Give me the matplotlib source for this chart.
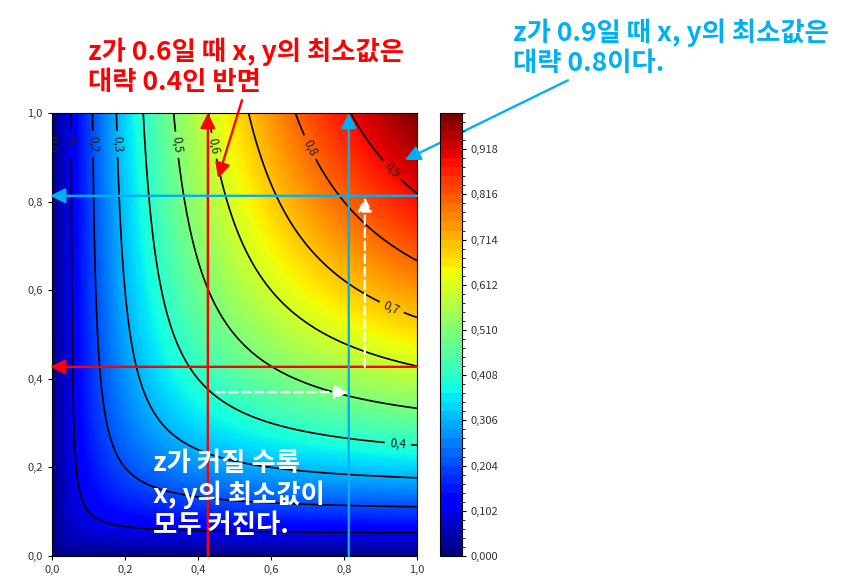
import numpy as np
import matplotlib
matplotlib.use("Agg")
import matplotlib.pyplot as plt
from matplotlib.ticker import FuncFormatter
from matplotlib.colors import BoundaryNorm
from matplotlib.cm import ScalarMappable

plt.rcParams['font.family'] = ['Noto Sans CJK KR', 'DejaVu Sans']

# ---- data ----
grid_x = np.linspace(0.0, 1.0, 400)
grid_y = np.linspace(0.0, 1.0, 400)
fill_levels = np.linspace(0.0, 1.0, 50)
smooth_levels = np.linspace(0.0, 1.0, 256)
line_levels = [0.0, 0.1, 0.2, 0.3, 0.4, 0.5, 0.6, 0.7, 0.8, 0.9]
axis_ticks = [0.0, 0.2, 0.4, 0.6, 0.8, 1.0]
cbar_ticks = fill_levels[::5]
label_spots = [(0.005, 0.93), (0.055, 0.93), (0.115, 0.93), (0.18, 0.93), (0.95, 0.28),
               (0.36, 0.93), (0.47, 0.93), (0.93, 0.56), (0.70, 0.92), (0.93, 0.87)]

red_min = 0.427      # z = 0.6 -> min x, y
blue_min = 0.813     # z = 0.9 -> min x, y

red_text = "z가 0.6일 때 x, y의 최소값은\n대략 0.4인 반면"
blue_text = "z가 0.9일 때 x, y의 최소값은\n대략 0.8이다."
white_text = "z가 커질 수록\nx, y의 최소값이\n모두 커진다."

RED = "#FF0000"
BLUE = "#00B0F0"

X, Y = np.meshgrid(grid_x, grid_y)
with np.errstate(divide='ignore', invalid='ignore'):
    Z = np.where(X + Y > 0, 2 * X * Y / (X + Y), 0.0)

fig = plt.figure(figsize=(8.49, 5.86), dpi=100)
ax = fig.add_axes([0.0612, 0.0512, 0.430, 0.756])
cax = fig.add_axes([0.518, 0.0512, 0.026, 0.756])

cf = ax.contourf(X, Y, Z, levels=smooth_levels, cmap='jet')
cs = ax.contour(X, Y, Z, levels=line_levels, colors='black', linewidths=1.2)
ax.clabel(cs, fmt=lambda v: f"{v:.1f}".replace('.', ','), fontsize=8.5,
          manual=label_spots, inline=True, colors='#222222')

comma = lambda fmt: FuncFormatter(lambda v, p: (fmt % v).replace('.', ','))
ax.set_xlim(0, 1)
ax.set_ylim(0, 1)
ax.set_xticks(axis_ticks)
ax.set_yticks(axis_ticks)
ax.xaxis.set_major_formatter(comma("%.1f"))
ax.yaxis.set_major_formatter(comma("%.1f"))
ax.tick_params(labelsize=8, labelcolor='#333333', length=3, width=0.8)

sm = ScalarMappable(norm=BoundaryNorm(fill_levels, ncolors=256), cmap='jet')
cb = fig.colorbar(sm, cax=cax, ticks=cbar_ticks)
cb.ax.yaxis.set_major_formatter(comma("%.3f"))
cb.ax.tick_params(labelsize=8, labelcolor='#333333', length=3, width=0.8)

HEAD = '-|>,head_length=0.6,head_width=0.3'

def arrow(x0, y0, x1, y1, color, ls='-', ms=15, lw=1.7):
    ax.annotate('', xy=(x1, y1), xytext=(x0, y0), xycoords='data', textcoords='data',
                arrowprops=dict(arrowstyle=HEAD, color=color, lw=lw, linestyle=ls,
                                mutation_scale=ms, shrinkA=0, shrinkB=0),
                annotation_clip=False)

# red guides
arrow(red_min, 0.0, red_min, 1.0, RED)
arrow(1.0, red_min, -0.005, red_min, RED)
# blue guides
arrow(blue_min, 0.0, blue_min, 1.0, BLUE)
arrow(1.0, blue_min, -0.005, blue_min, BLUE)
# white dashed arrows
arrow(0.45, 0.37, 0.812, 0.37, 'white', ls=(0, (3.5, 2)), ms=14)
arrow(0.857, red_min, 0.857, 0.81, 'white', ls=(0, (3.5, 2)), ms=14)

# callout arrows
ax.annotate('', xy=(0.455, 0.853), xytext=(0.285, 0.829), xycoords='data',
            textcoords='figure fraction',
            arrowprops=dict(arrowstyle=HEAD, color=RED, lw=1.7, mutation_scale=15,
                            shrinkA=0, shrinkB=0), annotation_clip=False)
ax.annotate('', xy=(0.967, 0.894), xytext=(0.669, 0.863), xycoords='data',
            textcoords='figure fraction',
            arrowprops=dict(arrowstyle=HEAD, color=BLUE, lw=1.7, mutation_scale=15,
                            shrinkA=0, shrinkB=0), annotation_clip=False)

fig.text(0.104, 0.936, red_text, color=RED, fontsize=19, fontweight='bold',
         va='top', ha='left', linespacing=1.12)
fig.text(0.604, 0.968, blue_text, color=BLUE, fontsize=19, fontweight='bold',
         va='top', ha='left', linespacing=1.12)
fig.text(0.18, 0.232, white_text, color='white', fontsize=19, fontweight='bold',
         va='top', ha='left', linespacing=1.15)

fig.savefig('out.png', dpi=100)
